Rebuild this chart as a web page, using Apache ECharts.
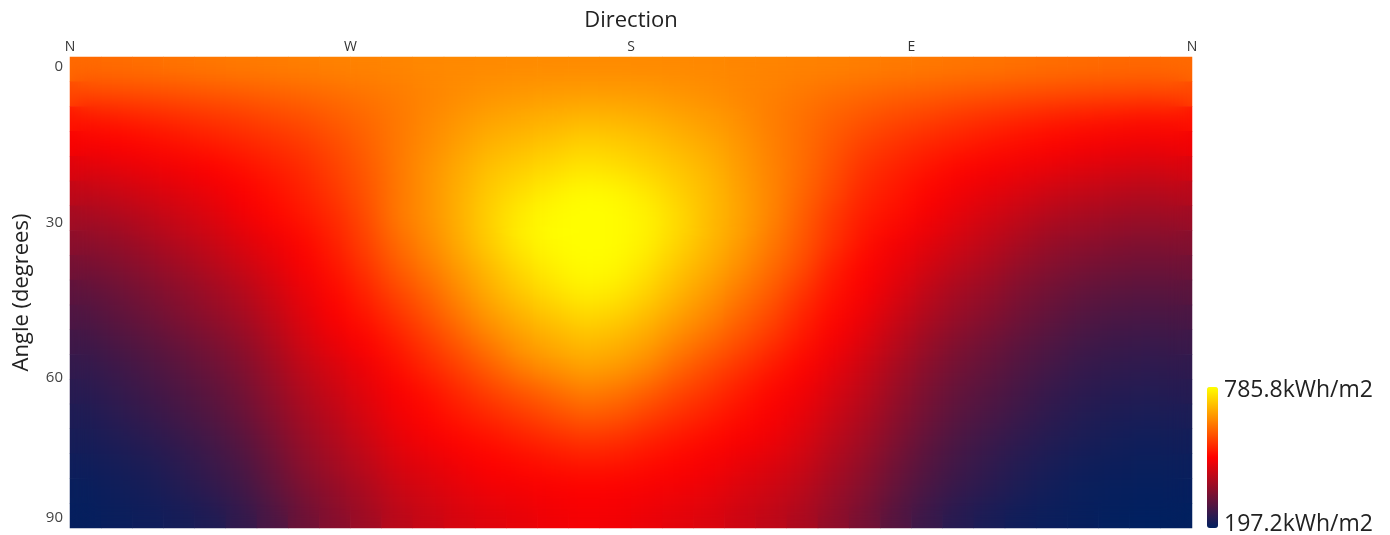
<!DOCTYPE html>
<html>
<head>
<meta charset="utf-8">
<title>Direction / angle irradiation</title>
<script src="https://cdn.jsdelivr.net/npm/echarts@6/dist/echarts.min.js"></script>
<style>
    html, body { margin: 0; padding: 0; background: #fff; }
    #main { width: 1390px; height: 535px; }
    /* upper heatmap layer is softened so the cells read as a continuous surface */
    canvas[data-zr-dom-id="zr_1"] { filter: blur(13px); clip-path: inset(57px 198px 7px 70px); }
</style>
</head>
<body>
<div id="main"></div>
<script>
// centre of each direction cell, degrees from north going N-W-S-E-N
const directions = [5,15,25,35,45,55,65,75,85,95,105,115,125,135,145,155,165,175,185,195,205,215,225,235,245,255,265,275,285,295,305,315,325,335,345,355];
const angles = [0,5,10,15,20,25,30,35,40,45,50,55,60,65,70,75,80,85,90];
const directionTicks = {0: 'N', 90: 'W', 180: 'S', 270: 'E', 360: 'N'};
const angleTicks = [0, 30, 60, 90];
// the labels in the picture are not evenly spaced, these are where they sit on the axis
const angleTickAt = [0, 31, 62, 90];
const minValue = 197.2;
const maxValue = 785.8;

// kWh/m2, one list per tilt angle
const angle00 = [614,617,621,625,629,632,635,638,641,643,645,648,650,651,652,652,652,652,651,650,648,646,644,642,640,637,634,631,628,625,622,619,616,614,613,614];
const angle05 = [574,577,580,585,591,597,604,610,617,626,635,644,653,662,667,671,674,673,670,664,656,647,639,630,620,612,605,599,593,587,582,578,575,572,570,572];
const angle10 = [515,523,532,541,550,560,571,582,598,613,630,648,665,680,688,696,703,700,693,683,671,657,637,621,604,588,575,565,553,544,534,525,518,512,507,510];
const angle15 = [484,491,500,510,521,532,545,558,579,603,630,652,675,697,709,721,733,727,716,702,687,666,640,618,592,566,550,535,525,514,504,495,486,480,475,478];
const angle20 = [452,462,471,480,491,507,523,540,567,594,630,660,688,715,730,744,757,750,736,720,700,672,644,616,583,548,530,513,497,485,474,465,455,447,439,444];
const angle25 = [418,428,441,454,468,488,508,529,555,588,628,660,694,727,750,770,782,778,760,733,708,677,645,610,572,535,517,496,476,462,447,431,421,411,404,408];
const angle30 = [385,397,413,431,450,473,496,516,540,578,630,660,696,735,768,782,786,784,772,745,710,680,645,600,555,522,505,481,459,438,419,400,389,380,375,378];
const angle35 = [358,368,387,407,427,451,472,498,528,568,614,650,690,730,765,782,786,784,770,738,705,672,632,592,548,510,482,460,437,416,392,372,361,351,345,348];
const angle40 = [331,344,361,381,403,428,455,485,515,552,596,632,672,710,745,770,782,778,755,720,690,655,617,578,525,495,468,441,413,392,366,348,335,326,322,324];
const angle45 = [305,320,338,358,379,403,435,468,500,532,572,608,652,692,725,750,768,760,735,700,668,632,596,552,512,485,452,416,387,368,342,325,310,302,298,300];
const angle50 = [287,303,321,341,362,385,418,455,488,515,548,585,628,668,697,720,739,730,707,675,645,608,573,532,498,470,433,398,370,350,325,308,292,284,280,282];
const angle55 = [270,285,300,318,338,362,398,440,470,495,524,558,598,638,672,692,710,700,680,645,615,583,549,515,482,452,412,374,346,326,305,290,275,267,263,265];
const angle60 = [256,268,284,301,321,345,380,420,448,474,506,536,568,603,640,662,680,671,650,612,580,550,522,496,465,432,392,356,329,310,290,275,260,254,250,252];
const angle65 = [243,256,270,286,303,328,364,402,432,459,487,510,538,568,592,615,638,628,604,575,550,523,500,478,445,415,374,338,311,294,276,260,248,241,238,240];
const angle70 = [232,244,257,273,291,315,350,388,415,446,475,497,518,538,557,578,597,590,566,545,525,505,486,464,430,398,360,325,299,281,264,248,236,230,226,228];
const angle75 = [224,232,243,257,274,297,332,372,400,430,463,480,496,509,524,538,550,545,529,514,501,487,472,448,412,382,343,308,282,265,249,236,227,220,215,218];
const angle80 = [214,221,230,244,262,283,317,358,385,413,445,460,476,491,500,508,515,512,503,494,482,466,451,430,395,365,327,294,270,253,237,225,216,211,209,210];
const angle85 = [207,215,222,235,250,270,302,340,368,396,428,444,461,474,481,487,491,489,483,477,467,449,434,412,378,348,311,280,258,243,228,217,209,205,203,204];
const angle90 = [203,209,214,222,232,254,284,322,352,380,411,428,444,456,464,474,480,477,468,459,450,433,417,395,362,332,294,263,240,226,215,210,205,201,197,199];

const rows = [angle00,angle05,angle10,angle15,angle20,angle25,angle30,angle35,angle40,angle45,angle50,angle55,angle60,angle65,angle70,angle75,angle80,angle85,angle90];

let cells = [];
rows.forEach((row, y) => {
    row.forEach((v, x) => {
        cells.push([x, y, v]);
    });
});

const fontName = '"Open Sans", sans-serif';
var myChart = echarts.init(document.getElementById('main'));
var option = {
    animation: false,
    backgroundColor: '#fff',
    title: {
        text: 'Direction',
        left: 626,
        top: 5,
        textAlign: 'center',
        textStyle: { color: '#222', fontSize: 22, fontWeight: 'normal', fontFamily: fontName }
    },
    grid: { left: 70, top: 57, width: 1122, height: 471 },
    xAxis: [
        { type: 'category', data: directions, show: false },
        {
            type: 'value',
            position: 'top',
            min: 0,
            max: 360,
            interval: 90,
            splitLine: { show: false },
            axisLine: { show: false },
            axisTick: { show: false },
            axisLabel: {
                margin: 3,
                color: '#333',
                fontSize: 14,
                fontFamily: fontName,
                formatter: v => directionTicks[v]
            }
        }
    ],
    yAxis: [
        { type: 'category', data: angles, inverse: true, show: false },
        {
            type: 'value',
            position: 'left',
            inverse: true,
            min: -2,
            max: 92,
            name: 'Angle (degrees)',
            nameLocation: 'middle',
            nameGap: 37,
            nameTextStyle: { color: '#222', fontSize: 22, fontFamily: fontName },
            splitLine: { show: false },
            axisLine: { show: false },
            axisTick: { show: false },
            axisLabel: {
                customValues: angleTickAt,
                margin: 7,
                color: '#444',
                fontSize: 15,
                fontFamily: fontName,
                formatter: v => String(angleTicks[angleTickAt.indexOf(v)])
            }
        }
    ],
    visualMap: {
        type: 'continuous',
        min: minValue,
        max: maxValue,
        calculable: false,
        realtime: false,
        left: 1207,
        top: 387,
        padding: 0,
        itemWidth: 11,
        itemHeight: 141,
        inRange: { color: ['#002060', '#ff0000', '#ffff00'] }
    },
    graphic: [
        { type: 'text', left: 1224, top: 379, style: { text: '785.8kWh/m2', fill: '#222', font: '23px ' + fontName } },
        { type: 'text', left: 1224, top: 513, style: { text: '197.2kWh/m2', fill: '#222', font: '23px ' + fontName } }
    ],
    series: [
        { type: 'heatmap', data: cells, xAxisIndex: 0, yAxisIndex: 0, silent: true, zlevel: 0 },
        { type: 'heatmap', data: cells, xAxisIndex: 0, yAxisIndex: 0, silent: true, zlevel: 1 }
    ]
};
myChart.setOption(option);
</script>
</body>
</html>
